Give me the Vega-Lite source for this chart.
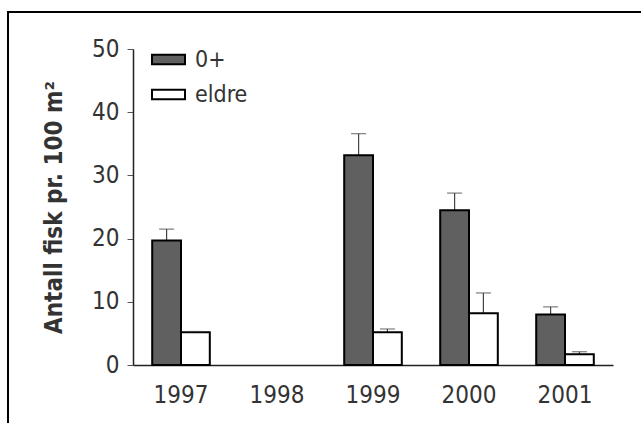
{
  "$schema": "https://vega.github.io/schema/vega-lite/v6.json",
  "width": 636,
  "height": 414,
  "autosize": {"type": "none"},
  "padding": {"left": 8, "top": 12, "right": 0, "bottom": 0},
  "background": "white",
  "config": {
    "view": {"stroke": "black", "strokeWidth": 2},
    "font": "DejaVu Sans Condensed, Roboto, sans-serif",
    "axis": {"labelFont": "DejaVu Sans Condensed, Roboto, sans-serif", "titleFont": "DejaVu Sans Condensed, Roboto, sans-serif"},
    "legend": {"labelFont": "DejaVu Sans Condensed, Roboto, sans-serif"}
  },
  "data": {
    "values": [
      {"year": "1997", "group": "0+", "value": 19.7, "upper": 21.5},
      {"year": "1997", "group": "eldre", "value": 5.2, "upper": 5.3},
      {"year": "1999", "group": "0+", "value": 33.2, "upper": 36.6},
      {"year": "1999", "group": "eldre", "value": 5.2, "upper": 5.7},
      {"year": "2000", "group": "0+", "value": 24.5, "upper": 27.2},
      {"year": "2000", "group": "eldre", "value": 8.2, "upper": 11.4},
      {"year": "2001", "group": "0+", "value": 8.0, "upper": 9.2},
      {"year": "2001", "group": "eldre", "value": 1.7, "upper": 2.1}
    ]
  },
  "encoding": {
    "x": {
      "field": "year",
      "type": "nominal",
      "scale": {
        "domain": ["1997", "1998", "1999", "2000", "2001"],
        "range": [125, 605],
        "paddingInner": 0.4,
        "paddingOuter": 0.2
      },
      "axis": {
        "title": null,
        "labelAngle": 0,
        "ticks": false,
        "domainColor": "#222",
        "domainWidth": 1.5,
        "labelFontSize": 24,
        "labelColor": "#333",
        "labelPadding": 18,
        "offset": -61
      }
    },
    "xOffset": {"field": "group", "type": "nominal", "scale": {"domain": ["0+", "eldre"]}}
  },
  "layer": [
    {
      "mark": {"type": "rule", "color": "#444", "strokeWidth": 1.2},
      "encoding": {
        "y": {"field": "value", "type": "quantitative", "title": "Antall fisk pr. 100 m²"},
        "y2": {"field": "upper"}
      }
    },
    {
      "mark": {"type": "bar", "stroke": "black", "strokeWidth": 2},
      "encoding": {
        "y": {
          "field": "value",
          "type": "quantitative",
          "title": "Antall fisk pr. 100 m²",
          "scale": {"domain": [0, 50], "range": [353, 37], "nice": false},
          "axis": {
            "values": [0, 10, 20, 30, 40, 50],
            "grid": false,
            "offset": -125,
            "domainColor": "#222",
            "domainWidth": 1.5,
            "tickColor": "#555",
            "tickSize": 6,
            "labelFontSize": 24,
            "labelColor": "#333",
            "labelPadding": 8,
            "titleFontSize": 24,
            "titleFontWeight": "bold",
            "titleColor": "#333",
            "titlePadding": 25
          }
        },
        "fill": {
          "field": "group",
          "type": "nominal",
          "scale": {"domain": ["0+", "eldre"], "range": ["#606060", "white"]},
          "legend": {
            "title": null,
            "orient": "none",
            "legendX": 143,
            "legendY": 30,
            "padding": 0,
            "symbolType": "M-1,-0.29L1,-0.29L1,0.29L-1,0.29Z",
            "symbolSize": 1089,
            "symbolStrokeColor": "black",
            "symbolStrokeWidth": 2,
            "labelFontSize": 23,
            "labelColor": "#333",
            "labelOffset": 9,
            "rowPadding": 5
          }
        }
      }
    },
    {
      "mark": {"type": "tick", "orient": "horizontal", "size": 15, "thickness": 1.2, "color": "#444"},
      "encoding": {
        "y": {"field": "upper", "type": "quantitative", "title": "Antall fisk pr. 100 m²"}
      }
    }
  ]
}
